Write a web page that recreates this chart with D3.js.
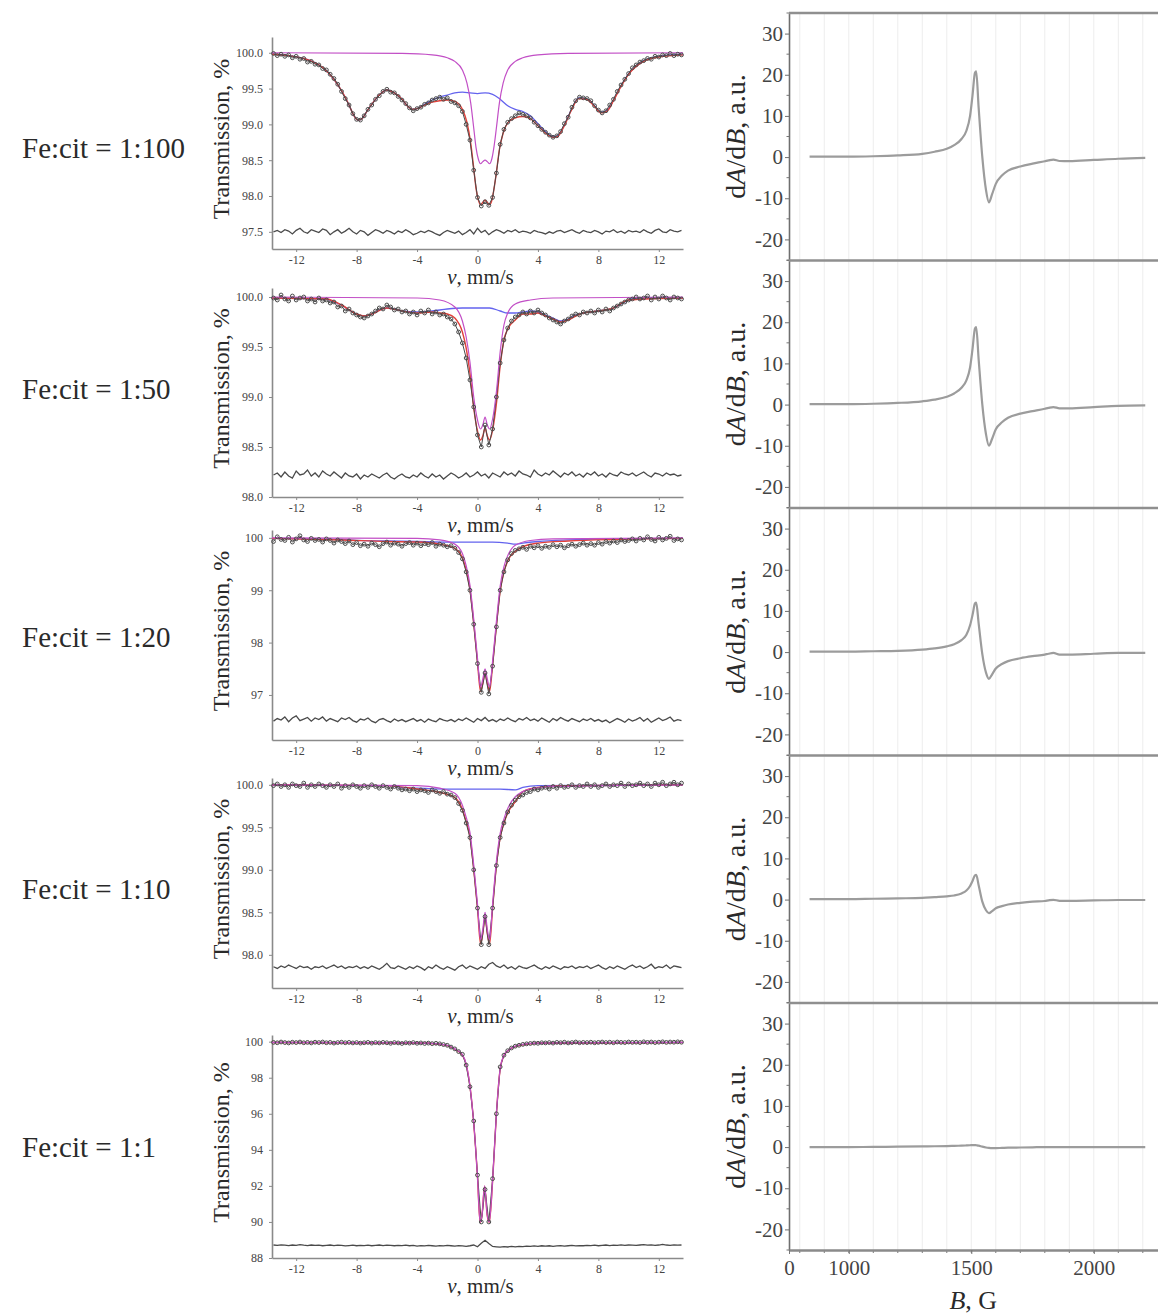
<!DOCTYPE html>
<html><head><meta charset="utf-8">
<script src="https://cdn.jsdelivr.net/npm/d3@7"></script>
<style>
body{margin:0;background:#fff}
svg{display:block}
text{font-family:"Liberation Serif","Times New Roman",serif}
</style>
</head><body>
<svg id="c" width="1158" height="1314"></svg>
<script>
// ---------- Mössbauer data ----------
const sampleLabels = ["Fe:cit = 1:100","Fe:cit = 1:50","Fe:cit = 1:20","Fe:cit = 1:10","Fe:cit = 1:1"];
const mossXTicks = [-12,-8,-4,0,4,8,12];
const vel = [
-13.5,-13.25,-13,-12.75,-12.5,-12.25,-12,-11.75,-11.5,-11.25,-11,-10.75,
-10.5,-10.25,-10,-9.75,-9.5,-9.25,-9,-8.75,-8.5,-8.25,-8,-7.75,
-7.5,-7.25,-7,-6.75,-6.5,-6.25,-6,-5.75,-5.5,-5.25,-5,-4.75,
-4.5,-4.25,-4,-3.75,-3.5,-3.25,-3,-2.75,-2.5,-2.25,-2,-1.75,
-1.5,-1.25,-1,-0.75,-0.5,-0.25,0,0.25,0.5,0.75,1,1.25,
1.5,1.75,2,2.25,2.5,2.75,3,3.25,3.5,3.75,4,4.25,
4.5,4.75,5,5.25,5.5,5.75,6,6.25,6.5,6.75,7,7.25,
7.5,7.75,8,8.25,8.5,8.75,9,9.25,9.5,9.75,10,10.25,
10.5,10.75,11,11.25,11.5,11.75,12,12.25,12.5,12.75,13,13.25,
13.5];

// 1:100
const m1YTicks = [97.5,98,98.5,99,99.5,100];
const m1Data = [
99.99,99.96,99.98,99.95,99.97,99.93,99.95,99.91,99.92,99.87,99.88,99.84,
99.83,99.78,99.76,99.70,99.64,99.56,99.46,99.36,99.27,99.15,99.07,99.06,
99.12,99.21,99.27,99.35,99.40,99.46,99.49,99.45,99.44,99.39,99.34,99.29,
99.23,99.19,99.22,99.24,99.28,99.30,99.34,99.36,99.38,99.35,99.37,99.32,
99.30,99.26,99.18,99.00,98.78,98.36,97.98,97.86,97.92,97.87,97.98,98.32,
98.72,98.93,99.03,99.08,99.12,99.16,99.14,99.12,99.09,99.03,98.98,98.93,
98.89,98.85,98.82,98.84,98.90,99.01,99.10,99.24,99.33,99.38,99.37,99.36,
99.33,99.26,99.20,99.16,99.19,99.27,99.35,99.46,99.55,99.63,99.71,99.79,
99.83,99.87,99.89,99.92,99.91,99.95,99.94,99.97,99.96,99.99,99.96,99.98,
99.97];
const m1Resid = [
97.50,97.52,97.49,97.53,97.51,97.47,97.52,97.55,97.50,97.48,97.53,97.51,
97.49,97.54,97.52,97.46,97.50,97.53,97.48,97.51,97.55,97.50,97.47,97.52,
97.50,97.45,97.49,97.53,97.51,97.48,97.52,97.50,97.47,97.51,97.49,97.53,
97.50,97.46,97.48,97.51,97.49,97.52,97.50,97.47,97.45,97.49,97.52,97.50,
97.48,97.51,97.46,97.49,97.53,97.47,97.55,97.49,97.52,97.46,97.50,97.53,
97.51,97.48,97.52,97.50,97.53,97.49,97.51,97.50,97.48,97.52,97.50,97.49,
97.47,97.50,97.48,97.51,97.52,97.49,97.51,97.53,97.50,97.48,97.52,97.50,
97.49,97.52,97.50,97.47,97.51,97.50,97.53,97.49,97.51,97.48,97.52,97.50,
97.51,97.49,97.53,97.50,97.48,97.52,97.54,97.50,97.49,97.53,97.51,97.50,
97.52];
const m1Blue = [[-13.6,99.98],[-12.5,99.96],[-11.5,99.92],[-10.5,99.83],[-10,99.75],[-9.5,99.63],[-9,99.47],[-8.5,99.27],[-8.2,99.13],[-7.9,99.06],[-7.6,99.09],[-7.3,99.19],[-7,99.28],[-6.5,99.41],[-6,99.48],[-5.5,99.44],[-5,99.35],[-4.6,99.25],[-4.3,99.21],[-4,99.22],[-3.5,99.28],[-3,99.34],[-2.5,99.38],[-2,99.41],[-1.5,99.44],[-1,99.45],[-0.5,99.44],[0,99.43],[0.5,99.44],[1,99.42],[1.5,99.35],[2,99.26],[2.5,99.21],[3,99.18],[3.5,99.12],[4,99.01],[4.5,98.9],[5,98.83],[5.3,98.84],[5.7,98.97],[6.2,99.2],[6.7,99.37],[7.2,99.36],[7.7,99.27],[8.2,99.17],[8.6,99.2],[9,99.34],[9.5,99.54],[10,99.71],[10.5,99.82],[11,99.89],[12,99.95],[13.6,99.98]];
const m1Mag = [[-13.6,100],[-5,99.99],[-3,99.97],[-2,99.93],[-1.5,99.88],[-1,99.76],[-0.7,99.58],[-0.45,99.3],[-0.25,98.95],[-0.1,98.68],[0.05,98.52],[0.2,98.45],[0.35,98.48],[0.5,98.5],[0.65,98.48],[0.8,98.45],[0.95,98.52],[1.1,98.7],[1.25,98.95],[1.45,99.3],[1.7,99.58],[2,99.76],[2.5,99.88],[3,99.93],[4,99.97],[6,99.99],[13.6,100]];
const m1Red = [[-13.6,99.98],[-12.5,99.96],[-11.5,99.92],[-10.5,99.83],[-10,99.75],[-9.5,99.63],[-9,99.47],[-8.5,99.27],[-8.2,99.13],[-7.9,99.06],[-7.6,99.09],[-7.3,99.19],[-7,99.28],[-6.5,99.41],[-6,99.48],[-5.5,99.44],[-5,99.35],[-4.6,99.25],[-4.3,99.21],[-4,99.22],[-3.5,99.27],[-3,99.31],[-2.5,99.33],[-2,99.34],[-1.5,99.32],[-1,99.21],[-0.7,99.03],[-0.45,98.74],[-0.25,98.39],[-0.1,98.11],[0.05,97.95],[0.2,97.88],[0.35,97.91],[0.5,97.94],[0.65,97.91],[0.8,97.88],[0.95,97.94],[1.1,98.11],[1.25,98.33],[1.45,98.65],[1.7,98.88],[2,99.02],[2.5,99.09],[3,99.11],[3.5,99.08],[4,98.98],[4.5,98.88],[5,98.82],[5.3,98.83],[5.7,98.96],[6.2,99.19],[6.7,99.36],[7.2,99.35],[7.7,99.26],[8.2,99.16],[8.6,99.19],[9,99.33],[9.5,99.53],[10,99.7],[10.5,99.81],[11,99.88],[12,99.94],[13.6,99.97]];

// 1:50
const m2YTicks = [98,98.5,99,99.5,100];
const m2Data = [
99.99,99.97,100.02,99.98,99.96,100.01,99.97,99.99,100.00,99.96,99.98,99.95,
99.99,99.96,99.97,99.94,99.95,99.90,99.91,99.86,99.88,99.84,99.82,99.80,
99.79,99.81,99.83,99.86,99.89,99.88,99.92,99.90,99.87,99.88,99.85,99.86,
99.83,99.85,99.82,99.86,99.84,99.87,99.83,99.85,99.82,99.83,99.80,99.78,
99.73,99.65,99.54,99.39,99.17,98.90,98.62,98.50,98.72,98.52,98.68,99.00,
99.34,99.57,99.69,99.76,99.80,99.82,99.85,99.83,99.86,99.84,99.87,99.84,
99.82,99.79,99.77,99.75,99.73,99.76,99.78,99.81,99.83,99.82,99.85,99.84,
99.86,99.84,99.87,99.85,99.88,99.86,99.89,99.91,99.93,99.95,99.97,99.98,
100.00,99.98,99.99,100.01,99.97,100.00,99.98,100.01,99.99,99.97,100.00,99.99,
99.98];
const m2Resid = [
98.22,98.24,98.20,98.25,98.21,98.19,98.26,98.22,98.23,98.27,98.21,98.24,
98.20,98.26,98.23,98.21,98.25,98.22,98.19,98.24,98.21,98.20,98.23,98.18,
98.22,98.20,98.23,98.21,98.19,98.22,98.24,98.20,98.18,98.21,98.23,98.20,
98.19,98.22,98.20,98.24,98.21,98.19,98.23,98.20,98.22,98.18,98.21,98.24,
98.22,98.19,98.21,98.24,98.20,98.22,98.25,98.21,98.23,98.19,98.24,98.22,
98.20,98.25,98.22,98.24,98.21,98.26,98.23,98.22,98.20,98.27,98.23,98.21,
98.24,98.22,98.26,98.23,98.20,98.24,98.22,98.25,98.21,98.23,98.20,98.24,
98.22,98.25,98.21,98.23,98.20,98.24,98.22,98.21,98.25,98.23,98.22,98.24,
98.21,98.23,98.25,98.22,98.20,98.24,98.23,98.21,98.24,98.22,98.23,98.21,
98.22];
const m2Blue = [[-13.6,99.99],[-10,99.98],[-9.5,99.95],[-9,99.92],[-8.5,99.87],[-8,99.83],[-7.5,99.81],[-7,99.83],[-6.5,99.87],[-6,99.89],[-5.5,99.88],[-5,99.86],[-4,99.85],[-3,99.86],[-2,99.88],[-1,99.89],[0,99.89],[0.8,99.89],[1.5,99.86],[2,99.84],[2.5,99.84],[3,99.85],[3.5,99.86],[4,99.85],[4.5,99.82],[5,99.79],[5.5,99.76],[6,99.78],[6.5,99.82],[7,99.84],[8,99.86],[9,99.89],[9.5,99.93],[10,99.97],[10.5,99.99],[13.6,99.99]];
const m2Mag = [[-13.6,100],[-4,99.99],[-2.5,99.97],[-1.5,99.9],[-1,99.76],[-0.75,99.6],[-0.5,99.35],[-0.25,99.0],[0,98.77],[0.2,98.68],[0.35,98.72],[0.5,98.8],[0.65,98.72],[0.8,98.68],[1,98.78],[1.25,99.05],[1.5,99.45],[1.75,99.72],[2,99.84],[2.5,99.93],[3.5,99.97],[5,99.99],[13.6,100]];
const m2Red = [[-13.6,99.99],[-10,99.98],[-9,99.92],[-8,99.83],[-7.5,99.81],[-7,99.83],[-6,99.89],[-5,99.86],[-4,99.84],[-3,99.85],[-2.5,99.84],[-2,99.83],[-1.5,99.79],[-1,99.65],[-0.75,99.49],[-0.5,99.24],[-0.25,98.89],[0,98.66],[0.2,98.57],[0.35,98.61],[0.5,98.69],[0.65,98.61],[0.8,98.57],[1,98.67],[1.25,98.93],[1.5,99.31],[1.75,99.57],[2,99.68],[2.5,99.77],[3,99.83],[3.5,99.83],[4,99.84],[4.5,99.81],[5,99.78],[5.5,99.75],[6,99.77],[6.5,99.81],[7,99.84],[8,99.86],[9,99.89],[10,99.97],[13.6,99.99]];

// 1:20
const m3YTicks = [97,98,99,100];
const m3Data = [
99.93,100.02,99.97,99.95,100.01,99.92,99.98,100.04,99.96,99.93,99.99,99.95,
99.97,99.92,99.98,99.95,99.90,99.96,99.93,99.89,99.94,99.87,99.91,99.85,
99.88,99.84,99.90,99.87,99.83,99.89,99.92,99.86,99.90,99.88,99.84,99.89,
99.91,99.86,99.90,99.85,99.89,99.87,99.91,99.84,99.88,99.86,99.83,99.85,
99.80,99.72,99.60,99.35,99.00,98.35,97.60,97.05,97.42,97.02,97.55,98.30,
99.00,99.35,99.58,99.70,99.76,99.79,99.82,99.78,99.84,99.81,99.85,99.80,
99.84,99.82,99.87,99.83,99.86,99.81,99.85,99.88,99.84,99.87,99.90,99.86,
99.89,99.86,99.91,99.88,99.93,99.90,99.94,99.91,99.96,99.93,99.95,99.98,
99.94,99.99,99.96,100.02,99.97,99.94,100.01,99.96,99.99,100.03,99.95,99.98,
99.96];
const m3Resid = [
96.50,96.55,96.52,96.58,96.49,96.56,96.60,96.51,96.54,96.57,96.50,96.56,
96.53,96.58,96.50,96.55,96.52,96.49,96.56,96.53,96.57,96.51,96.48,96.54,
96.52,96.56,96.50,96.47,96.53,96.55,96.51,96.48,96.54,96.50,96.53,96.49,
96.52,96.55,96.50,96.53,96.48,96.54,96.51,96.49,96.55,96.52,96.50,96.53,
96.49,96.54,96.51,96.56,96.52,96.48,96.55,96.51,96.57,96.50,96.53,96.49,
96.54,96.51,96.56,96.52,96.49,96.55,96.52,96.57,96.51,96.54,96.50,96.56,
96.52,96.48,96.55,96.51,96.57,96.53,96.50,96.55,96.52,96.49,96.54,96.51,
96.55,96.50,96.53,96.49,96.52,96.47,96.51,96.55,96.52,96.48,96.54,96.50,
96.53,96.57,96.50,96.55,96.48,96.52,96.56,96.51,96.54,96.58,96.50,96.53,
96.51];
const m3Blue = [[-13.6,99.99],[-9,99.97],[-8,99.95],[-6,99.94],[-4,99.93],[-2,99.92],[0,99.92],[1,99.92],[2,99.9],[2.5,99.88],[3,99.9],[4,99.93],[6,99.96],[9,99.98],[13.6,99.99]];
const m3Mag = [[-13.6,100],[-4,99.99],[-2.5,99.96],[-1.5,99.88],[-1,99.7],[-0.75,99.47],[-0.5,99.1],[-0.25,98.45],[0,97.7],[0.2,97.15],[0.35,97.3],[0.5,97.5],[0.65,97.3],[0.8,97.15],[1,97.65],[1.25,98.4],[1.5,99.08],[1.75,99.45],[2,99.66],[2.5,99.86],[3.5,99.95],[5,99.98],[13.6,100]];
const m3Red = [[-13.6,99.99],[-9,99.96],[-6,99.93],[-4,99.92],[-2.5,99.88],[-1.5,99.8],[-1,99.62],[-0.75,99.39],[-0.5,99.02],[-0.25,98.37],[0,97.62],[0.2,97.07],[0.35,97.22],[0.5,97.42],[0.65,97.22],[0.8,97.07],[1,97.57],[1.25,98.32],[1.5,98.98],[1.75,99.35],[2,99.56],[2.5,99.74],[3,99.83],[4,99.9],[6,99.94],[9,99.97],[13.6,99.99]];

// 1:10
const m4YTicks = [98,98.5,99,99.5,100];
const m4Data = [
99.99,100.01,99.98,100.00,99.97,100.01,99.99,99.98,100.02,99.97,100.00,99.98,
100.01,99.99,99.97,100.00,99.98,100.01,99.96,99.99,99.97,100.00,99.98,99.96,
99.99,99.97,100.00,99.98,99.96,99.99,99.97,99.95,99.98,99.96,99.94,99.95,
99.93,99.95,99.92,99.94,99.93,99.91,99.94,99.92,99.90,99.92,99.89,99.88,
99.85,99.78,99.70,99.55,99.38,99.00,98.55,98.12,98.45,98.12,98.55,99.05,
99.38,99.55,99.68,99.76,99.82,99.86,99.88,99.91,99.92,99.95,99.94,99.96,
99.97,99.95,99.98,99.96,99.99,99.97,99.98,100.00,99.97,99.99,99.98,100.01,
99.98,100.00,99.97,99.99,100.01,99.98,100.00,99.99,100.02,99.98,100.01,99.99,
100.00,100.02,99.99,100.01,99.98,100.02,100.00,100.03,99.99,100.01,100.03,100.00,
100.02];
const m4Resid = [
97.86,97.84,97.87,97.85,97.88,97.86,97.84,97.87,97.85,97.86,97.83,97.86,
97.85,97.87,97.84,97.86,97.88,97.85,97.87,97.84,97.86,97.85,97.87,97.84,
97.86,97.84,97.87,97.85,97.83,97.86,97.90,97.85,97.84,97.87,97.85,97.83,
97.86,97.84,97.87,97.85,97.82,97.86,97.84,97.88,97.85,97.83,97.86,97.84,
97.82,97.86,97.88,97.84,97.87,97.85,97.83,97.86,97.84,97.89,97.91,97.87,
97.85,97.88,97.84,97.86,97.83,97.87,97.85,97.84,97.86,97.88,97.85,97.83,
97.86,97.84,97.87,97.85,97.83,97.86,97.85,97.87,97.84,97.86,97.85,97.87,
97.84,97.86,97.88,97.85,97.83,97.86,97.84,97.87,97.85,97.83,97.86,97.88,
97.85,97.87,97.84,97.86,97.89,97.84,97.86,97.85,97.88,97.84,97.87,97.86,
97.85];
const m4Blue = [[-13.6,100],[-6,99.99],[-5,99.97],[-4,99.96],[-2,99.95],[0,99.95],[1.5,99.95],[2.5,99.94],[3,99.97],[4,99.99],[13.6,100]];
const m4Mag = [[-13.6,100],[-4,99.99],[-2.5,99.96],[-1.5,99.9],[-1,99.76],[-0.75,99.62],[-0.5,99.44],[-0.25,99.06],[0,98.6],[0.2,98.18],[0.35,98.3],[0.5,98.5],[0.65,98.3],[0.8,98.18],[1,98.6],[1.25,99.1],[1.5,99.43],[1.75,99.6],[2,99.72],[2.5,99.86],[3.5,99.95],[5,99.98],[13.6,100]];
const m4Red = [[-13.6,100],[-6,99.99],[-4,99.95],[-2.5,99.91],[-1.5,99.85],[-1,99.71],[-0.75,99.57],[-0.5,99.39],[-0.25,99.01],[0,98.55],[0.2,98.13],[0.35,98.25],[0.5,98.45],[0.65,98.25],[0.8,98.13],[1,98.55],[1.25,99.05],[1.5,99.38],[1.75,99.55],[2,99.67],[2.5,99.8],[3,99.92],[4,99.97],[6,99.99],[13.6,100]];

// 1:1 (no sextet component)
const m5YTicks = [88,90,92,94,96,98,100];
const m5Data = [
99.96,99.94,99.98,99.95,99.93,99.97,99.95,99.98,99.94,99.96,99.93,99.97,
99.95,99.98,99.94,99.96,99.92,99.95,99.97,99.94,99.96,99.93,99.95,99.92,
99.94,99.96,99.92,99.95,99.93,99.96,99.94,99.91,99.95,99.93,99.90,99.94,
99.92,99.95,99.91,99.93,99.90,99.92,99.89,99.91,99.88,99.84,99.80,99.70,
99.60,99.45,99.30,98.70,97.50,95.60,92.60,90.00,91.80,90.00,92.40,96.00,
98.60,99.25,99.50,99.65,99.75,99.80,99.85,99.88,99.90,99.92,99.91,99.94,
99.93,99.95,99.92,99.96,99.94,99.97,99.93,99.95,99.98,99.94,99.96,99.95,
99.97,99.94,99.96,99.98,99.95,99.97,99.94,99.98,99.96,99.95,99.98,99.96,
99.97,99.95,99.99,99.96,99.98,99.95,99.97,99.99,99.96,99.98,99.97,99.99,
99.97];
const m5Resid = [
88.72,88.70,88.73,88.71,88.69,88.72,88.70,88.74,88.71,88.69,88.72,88.70,
88.71,88.68,88.70,88.72,88.69,88.71,88.70,88.67,88.69,88.71,88.68,88.70,
88.69,88.71,88.68,88.70,88.72,88.69,88.71,88.70,88.68,88.70,88.69,88.71,
88.68,88.70,88.66,88.69,88.67,88.70,88.68,88.66,88.69,88.67,88.70,88.68,
88.66,88.69,88.67,88.65,88.68,88.72,88.62,88.82,88.98,88.80,88.64,88.62,
88.60,88.63,88.61,88.64,88.62,88.65,88.63,88.66,88.64,88.67,88.65,88.68,
88.66,88.68,88.65,88.67,88.69,88.66,88.68,88.70,88.67,88.69,88.68,88.70,
88.69,88.71,88.68,88.70,88.72,88.69,88.71,88.70,88.73,88.70,88.72,88.71,
88.70,88.72,88.74,88.71,88.73,88.70,88.72,88.75,88.72,88.70,88.73,88.71,
88.72];
const m5Blue = [];
const m5Mag = [[-13.6,99.96],[-4,99.93],[-2.5,99.86],[-2,99.8],[-1.5,99.6],[-1,99.28],[-0.75,98.75],[-0.5,97.55],[-0.25,95.5],[0,92.5],[0.17,90.0],[0.3,90.4],[0.47,92.0],[0.64,90.4],[0.78,90.0],[1.0,92.3],[1.25,96.0],[1.5,98.5],[1.75,99.25],[2,99.5],[2.5,99.75],[3,99.85],[4,99.92],[13.6,99.96]];
const m5Red = [[-13.6,99.95],[-4,99.93],[-2.5,99.86],[-2,99.78],[-1.5,99.58],[-1,99.26],[-0.75,98.73],[-0.5,97.53],[-0.25,95.48],[0,92.48],[0.17,89.98],[0.3,90.38],[0.47,91.98],[0.64,90.38],[0.78,89.98],[1.0,92.28],[1.25,95.98],[1.5,98.48],[1.75,99.23],[2,99.48],[2.5,99.73],[3,99.83],[4,99.91],[13.6,99.95]];

// ---------- EPR data ----------
const eprB = [840,900,1000,1100,1200,1300,1350,1400,1430,1460,1480,1495,1505,1515,1520,1530,1545,1560,1572,1585,1600,1625,1650,1700,1750,1800,1815,1835,1860,1900,2000,2100,2210];
const epr1 = [0.1,0.1,0.1,0.2,0.4,0.8,1.3,2.0,2.9,4.4,6.4,10,15,20.5,20.8,12,0,-8,-11,-9,-6.5,-4.5,-3.3,-2.3,-1.6,-1.0,-0.8,-0.6,-0.95,-1.0,-0.7,-0.4,-0.2];
const epr2 = [0.1,0.1,0.1,0.2,0.4,0.8,1.2,1.9,2.7,4.1,5.9,9,13.5,18.5,18.8,11,0,-7.2,-10,-8.3,-6.0,-4.3,-3.2,-2.2,-1.6,-1.0,-0.8,-0.6,-0.9,-0.9,-0.6,-0.3,-0.2];
const epr3 = [0.1,0.1,0.1,0.2,0.3,0.6,0.9,1.4,1.9,2.9,4.2,6.5,9,11.8,12,7,-0.5,-5,-6.5,-5.4,-4.0,-2.9,-2.2,-1.5,-1.0,-0.6,-0.4,-0.2,-0.6,-0.6,-0.4,-0.2,-0.2];
const epr4 = [0.1,0.1,0.1,0.2,0.3,0.4,0.6,0.8,1.0,1.5,2.2,3.3,4.5,5.9,6.0,3.5,-0.5,-2.6,-3.3,-2.8,-2.1,-1.6,-1.2,-0.8,-0.5,-0.35,-0.2,-0.05,-0.3,-0.3,-0.2,-0.1,-0.1];
const epr5 = [0,0,0,0.05,0.1,0.15,0.2,0.25,0.3,0.35,0.4,0.45,0.5,0.5,0.45,0.35,0.1,-0.1,-0.2,-0.25,-0.25,-0.2,-0.15,-0.1,-0.05,0,0,0,0,0,0,0,0];
const eprYTicks = [-20,-10,0,10,20,30];
const eprYMinor = [-25,-15,-5,5,15,25,35];
const eprGrid = [800,900,1000,1100,1200,1300,1400,1500,1600,1700,1800,1900,2000,2100,2200];
const bTickValues = [756,1000,1500,2000];
const bTickLabels = ["0","1000","1500","2000"];

// ---------- drawing ----------
const svg = d3.select("#c");
const C = {data:"#4a4a4a", red:"#e2403a", mag:"#c24fc6", blue:"#6363ee", axis:"#8a8a8a", text:"#2a2a2a"};

const mossPanels = [
  {data:m1Data,resid:m1Resid,red:m1Red,mag:m1Mag,blue:m1Blue,yTicks:m1YTicks,fmt:".1f"},
  {data:m2Data,resid:m2Resid,red:m2Red,mag:m2Mag,blue:m2Blue,yTicks:m2YTicks,fmt:".1f"},
  {data:m3Data,resid:m3Resid,red:m3Red,mag:m3Mag,blue:m3Blue,yTicks:m3YTicks,fmt:"d"},
  {data:m4Data,resid:m4Resid,red:m4Red,mag:m4Mag,blue:m4Blue,yTicks:m4YTicks,fmt:".1f"},
  {data:m5Data,resid:m5Resid,red:m5Red,mag:m5Mag,blue:m5Blue,yTicks:m5YTicks,fmt:"d"}
];
const mossLayout = [
  {top:37,bottom:249,dom:[97.26,100.22],labelY:158},
  {top:288,bottom:497,dom:[98.0,100.09],labelY:399},
  {top:530,bottom:740,dom:[96.14,100.15],labelY:647},
  {top:778,bottom:988,dom:[97.61,100.08],labelY:899},
  {top:1035,bottom:1258,dom:[88,100.37],labelY:1157}
];
const mossX = d3.scaleLinear().domain([-13.6,13.6]).range([272,683]);

mossPanels.forEach((p,k)=>{
  const L = mossLayout[k];
  const y = d3.scaleLinear().domain(L.dom).range([L.bottom,L.top]);
  const g = svg.append("g");
  const n = Math.min(vel.length,p.data.length,p.resid.length);
  const dataPts = d3.range(n).map(i=>[vel[i],p.data[i]]);
  const resPts = d3.range(n).map(i=>[vel[i],p.resid[i]]);
  const lin = d3.line().x(d=>mossX(d[0])).y(d=>y(d[1]));
  const smooth = d3.line().x(d=>mossX(d[0])).y(d=>y(d[1])).curve(d3.curveMonotoneX);

  const xa = g.append("g").attr("transform",`translate(0,${L.bottom})`)
    .call(d3.axisBottom(mossX).tickValues(mossXTicks).tickFormat(d=>String(d)).tickSize(3).tickSizeOuter(0).tickPadding(3));
  xa.select(".domain").attr("stroke",C.axis).attr("stroke-width",1.6);
  xa.selectAll(".tick line").attr("stroke",C.axis);
  xa.selectAll("text").attr("font-size",12).attr("fill","#444").attr("font-family","Liberation Serif");
  const ya = g.append("g").attr("transform",`translate(${mossX.range()[0]},0)`)
    .call(d3.axisLeft(y).tickValues(p.yTicks).tickFormat(d3.format(p.fmt)).tickSize(3).tickSizeOuter(0).tickPadding(6));
  ya.select(".domain").attr("stroke",C.axis).attr("stroke-width",1.6);
  ya.selectAll(".tick line").attr("stroke",C.axis);
  ya.selectAll("text").attr("font-size",12).attr("fill","#444").attr("font-family","Liberation Serif");

  if (p.blue.length) g.append("path").datum(p.blue).attr("d",smooth).attr("fill","none").attr("stroke",C.blue).attr("stroke-width",1.3);
  g.append("path").datum(p.red).attr("d",smooth).attr("fill","none").attr("stroke",C.red).attr("stroke-width",1.4);
  g.append("path").datum(resPts).attr("d",lin).attr("fill","none").attr("stroke",C.data).attr("stroke-width",1.3);
  g.append("path").datum(dataPts).attr("d",lin).attr("fill","none").attr("stroke",C.data).attr("stroke-width",1.0);
  g.append("path").datum(p.mag).attr("d",smooth).attr("fill","none").attr("stroke",C.mag).attr("stroke-width",1.2);
  g.selectAll("circle.d").data(dataPts).join("circle").attr("class","d")
    .attr("cx",d=>mossX(d[0])).attr("cy",d=>y(d[1])).attr("r",1.9)
    .attr("fill","none").attr("stroke",C.data).attr("stroke-width",1);

  const cy = (L.top+L.bottom)/2;
  g.append("text").attr("transform",`translate(229,${cy-4}) rotate(-90)`).attr("text-anchor","middle")
    .attr("font-size",24).attr("fill",C.text).text("Transmission, %");
  const xl = g.append("text").attr("x",mossX(0)+3).attr("y",L.bottom+35).attr("text-anchor","middle")
    .attr("font-size",21).attr("fill",C.text);
  xl.append("tspan").attr("font-style","italic").text("v");
  xl.append("tspan").text(", mm/s");
  svg.append("text").attr("x",22).attr("y",L.labelY).attr("font-size",29).attr("fill",C.text).text(sampleLabels[k]);
});

// EPR panels
const eprSeries = [epr1,epr2,epr3,epr4,epr5];
const eprX = d3.scaleLinear().domain([756,2262]).range([789,1158]);
const eprTop = [13,260.5,508,755.5,1003];
const eprH = 247;
eprSeries.forEach((s,k)=>{
  const top = eprTop[k], bot = top+eprH;
  const y = d3.scaleLinear().domain([-25,35]).range([bot,top]);
  const g = svg.append("g");
  g.selectAll("line.grid").data(eprGrid).join("line").attr("class","grid")
    .attr("x1",d=>eprX(d)).attr("x2",d=>eprX(d)).attr("y1",top).attr("y2",bot)
    .attr("stroke","#ededed").attr("stroke-width",1);
  g.selectAll("line.minor").data(eprYMinor).join("line").attr("class","minor")
    .attr("x1",eprX.range()[0]-2.5).attr("x2",eprX.range()[0]).attr("y1",d=>y(d)).attr("y2",d=>y(d))
    .attr("stroke","#777");
  const ya = g.append("g").attr("transform",`translate(${eprX.range()[0]},0)`)
    .call(d3.axisLeft(y).tickValues(eprYTicks).tickFormat(d=>String(d)).tickSize(4).tickSizeOuter(0).tickPadding(2));
  ya.select(".domain").attr("stroke","#6f6f6f").attr("stroke-width",1.6);
  ya.selectAll(".tick line").attr("stroke","#6f6f6f");
  ya.selectAll("text").attr("font-size",21).attr("fill","#444").attr("font-family","Liberation Serif");
  g.append("line").attr("x1",eprX.range()[0]).attr("x2",1158).attr("y1",top).attr("y2",top)
    .attr("stroke","#8f8f8f").attr("stroke-width",2.6);
  const pts = eprB.map((b,i)=>[b,s[i]]);
  g.append("path").datum(pts).attr("d",d3.line().x(d=>eprX(d[0])).y(d=>y(d[1])).curve(d3.curveMonotoneX))
    .attr("fill","none").attr("stroke","#9c9c9c").attr("stroke-width",2.2);
  const t = g.append("text").attr("transform",`translate(745,${(top+bot)/2}) rotate(-90)`).attr("text-anchor","middle")
    .attr("font-size",28).attr("fill",C.text);
  t.append("tspan").text("d");
  t.append("tspan").attr("font-style","italic").text("A");
  t.append("tspan").text("/d");
  t.append("tspan").attr("font-style","italic").text("B");
  t.append("tspan").text(", a.u.");
});
const botY = eprTop[4]+eprH;
svg.selectAll("line.bminor").data(eprGrid).join("line").attr("class","bminor")
  .attr("x1",d=>eprX(d)).attr("x2",d=>eprX(d)).attr("y1",botY).attr("y2",botY+3).attr("stroke","#777");
const xa = svg.append("g").attr("transform",`translate(0,${botY})`)
  .call(d3.axisBottom(eprX).tickValues(bTickValues).tickFormat((d,i)=>bTickLabels[i]).tickSize(4).tickSizeOuter(0).tickPadding(6));
xa.select(".domain").attr("stroke","#8a8a8a").attr("stroke-width",2.6);
xa.selectAll(".tick line").attr("stroke","#777");
xa.selectAll("text").attr("font-size",21).attr("fill","#444").attr("font-family","Liberation Serif");
const bl = svg.append("text").attr("x",eprX(1500)+2).attr("y",botY+59).attr("text-anchor","middle").attr("font-size",26).attr("fill",C.text);
bl.append("tspan").attr("font-style","italic").text("B");
bl.append("tspan").text(", G");
</script>
</body></html>
